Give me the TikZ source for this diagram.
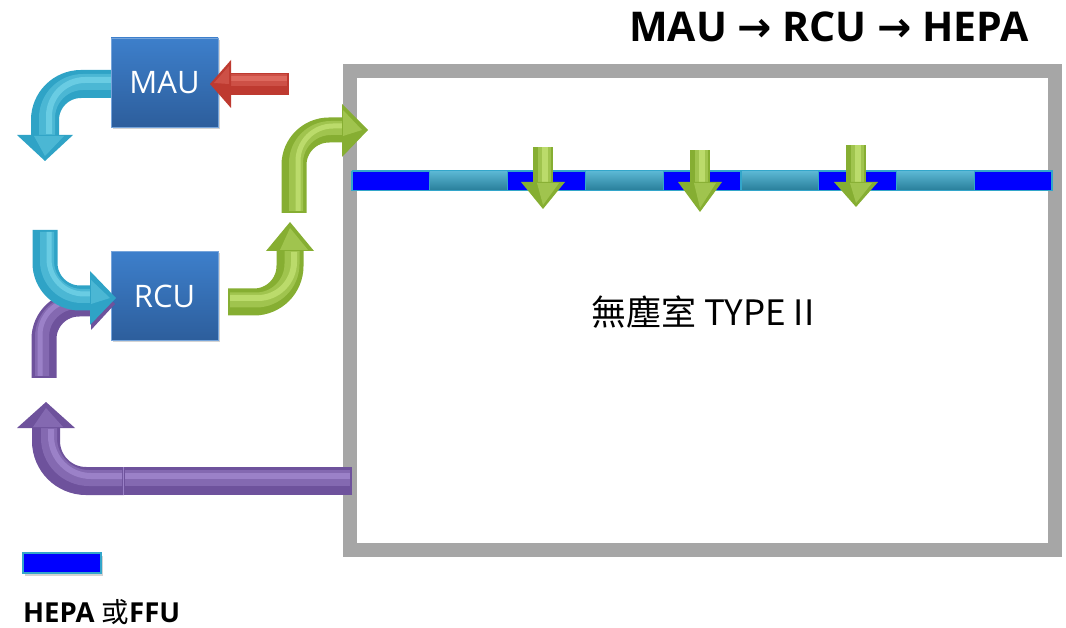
\documentclass[tikz,border=0pt]{standalone}
\usepackage{fontspec}
\setmainfont{Open Sans}
\newfontfamily\cjk{Noto Sans CJK TC}
\newfontfamily\symf{DejaVu Sans}
\usetikzlibrary{shadows}
\definecolor{framegray}{HTML}{A6A6A6}
\definecolor{boxtop}{HTML}{3D7FCB}
\definecolor{boxbot}{HTML}{2D5E9C}
\definecolor{cyanA}{HTML}{2FA3C6}
\definecolor{cyanL}{HTML}{8FE6F7}
\definecolor{greenA}{HTML}{86AE32}
\definecolor{greenL}{HTML}{DDF78F}
\definecolor{purpA}{HTML}{6E529C}
\definecolor{purpL}{HTML}{B8A0E4}
\definecolor{redA}{HTML}{BE3A30}
\definecolor{redL}{HTML}{F2867A}
\definecolor{hepa}{HTML}{0000FF}
\definecolor{hepaC}{HTML}{33A6CA}
\tikzset{
  unitbox/.style={minimum width=107pt, minimum height=89pt, inner sep=0pt,
    top color=boxtop, bottom color=boxbot, draw=boxtop!70!white, line width=0.8pt,
    drop shadow={opacity=.35, shadow xshift=2pt, shadow yshift=-2pt},
    text=white, font=\fontsize{31}{31}\selectfont},
  hepaseg/.style={fill=hepa, draw=hepaC, line width=1.2pt},
  glow/.style={opacity=.3, line cap=butt},
  glowb/.style={opacity=.45, line cap=butt},
}
\begin{document}
\begin{tikzpicture}[x=1pt,y=-1pt]
\useasboundingbox (0,0) rectangle (1066,628);

% clean-room enclosure
\node[draw=framegray, line width=14pt, minimum width=705pt, minimum height=479pt,
      inner sep=0pt] (room) at (702.5,310.5) {};
\node[font=\cjk\fontsize{35}{35}\selectfont] (roomlabel) at (703,312) {無塵室 TYPE II};

% HEPA / FFU ceiling row
\shade[top color=hepaC!80!white, bottom color=hepaC!75!black, draw=hepaC, line width=1pt]
  (352,171) rectangle (1052,191);
\foreach \i in {0,2,4,6,8} {
  \path[hepaseg] ({352+\i*77.78},171.5) rectangle ({352+(\i+1)*77.78},190.5);
}
% supply arrows through the filters
\foreach \c/\t in {543/147, 700/150, 856/145} {
  \fill[greenA] ({\c-10},\t) rectangle ({\c+10},184);
  \fill[greenL, glow] ({\c-5},\t) rectangle ({\c+8},183);
  \fill[greenL, glowb] ({\c-1},\t) rectangle ({\c+5},183);
  \fill[greenA] ({\c-22},182) -- ({\c+22},182) -- (\c,{\t+62}) -- cycle;
  \fill[greenL, glow] ({\c-6},183) -- ({\c+16},183) -- (\c,{\t+58}) -- cycle;
}

% MAU outlet (cyan, behind the box)
\draw[cyanA, line width=28pt, rounded corners=36pt] (115,84) -- (45,84) -- (45,136);
\draw[cyanL, glow, line width=16pt, rounded corners=36pt] (112,82) -- (47,82) -- (47,135);
\draw[cyanL, glowb, line width=6pt, rounded corners=36pt] (112,80) -- (49,80) -- (49,134);
\fill[cyanA] (17,135) -- (73,135) -- (45,161) -- cycle;
\fill[cyanL, glow] (34,136) -- (64,136) -- (45,156) -- cycle;

% units
\node[unitbox] (mau) at (164.5,82.5) {MAU};
\node[unitbox] (rcu) at (164.5,296) {RCU};

% outside air into MAU (red)
\fill[redA] (229,73) rectangle (289,95);
\fill[redL, glow] (231,74) rectangle (287,86);
\fill[redL, glowb] (231,76) rectangle (287,81);
\fill[redA] (231,60) -- (231,108) -- (210,84) -- cycle;
\fill[redL, glow] (229,66) -- (229,84) -- (214,83) -- cycle;

% return air from the room (purple)
\draw[purpA, line width=28pt] (352,481) -- (123,481);
\draw[purpL, glow, line width=16pt] (350,478) -- (125,478);
\draw[purpL, glowb, line width=6pt] (350,476) -- (125,476);
\draw[purpA, line width=28pt, rounded corners=40pt] (124,481) -- (46,481) -- (46,427);
\draw[purpL, glow, line width=16pt, rounded corners=40pt] (122,478) -- (49,478) -- (49,428);
\draw[purpL, glowb, line width=6pt, rounded corners=40pt] (122,476) -- (51,476) -- (51,429);
\draw[purpL!60!purpA, line width=1pt] (123,467) -- (123,495);
\fill[purpA] (17,428) -- (75,428) -- (46,402) -- cycle;
\fill[purpL, glow] (33,427) -- (63,427) -- (46,408) -- cycle;

% return air into RCU (purple, under the cyan one)
\draw[purpA, line width=25pt, rounded corners=35pt] (44,378) -- (44,304) -- (92,304);
\draw[purpL, glow, line width=14pt, rounded corners=35pt] (42,376) -- (42,302) -- (92,302);
\draw[purpL, glowb, line width=5pt, rounded corners=35pt] (40,376) -- (40,300) -- (92,300);
\fill[purpA] (91,279) -- (91,330) -- (115,304) -- cycle;

% MAU air into RCU (cyan)
\draw[cyanA, line width=25pt, rounded corners=35pt] (45,230) -- (45,298) -- (91,298);
\draw[cyanL, glow, line width=14pt, rounded corners=35pt] (47,232) -- (47,296) -- (91,296);
\draw[cyanL, glowb, line width=5pt, rounded corners=35pt] (49,232) -- (49,294) -- (91,294);
\fill[cyanA] (90,271) -- (90,325) -- (116,298) -- cycle;
\fill[cyanL, glow] (91,280) -- (91,304) -- (110,298) -- cycle;

% RCU supply towards the ceiling (green)
\draw[greenA, line width=27pt, rounded corners=36pt] (228,302) -- (290,302) -- (290,250);
\draw[greenL, glow, line width=15pt, rounded corners=36pt] (230,300) -- (292,300) -- (292,251);
\draw[greenL, glowb, line width=6pt, rounded corners=36pt] (230,298) -- (294,298) -- (294,252);
\fill[greenA] (266,251) -- (314,251) -- (290,222) -- cycle;
\fill[greenL, glow] (280,250) -- (308,250) -- (290,228) -- cycle;

\draw[greenA, line width=25pt, rounded corners=35pt] (294,213) -- (294,130) -- (343,130);
\draw[greenL, glow, line width=14pt, rounded corners=35pt] (296,211) -- (296,128) -- (343,128);
\draw[greenL, glowb, line width=5pt, rounded corners=35pt] (298,211) -- (298,126) -- (343,126);
\fill[greenA] (342,104) -- (342,157) -- (368,130) -- cycle;
\fill[greenL, glow] (343,110) -- (343,136) -- (362,130) -- cycle;

% title
\node[anchor=base, font=\bfseries\fontsize{41}{41}\selectfont] (title) at (829,42)
  {MAU {\symf →} RCU {\symf →} HEPA};

% legend
\node[hepaseg, minimum width=78pt, minimum height=20pt, inner sep=0pt,
      drop shadow={opacity=.35, shadow xshift=2pt, shadow yshift=-3pt}] (legendbar) at (62,563) {};
\node[anchor=base west, inner sep=0pt, font=\bfseries\fontsize{27.5}{27.5}\selectfont] (legendtext)
  at (23,622) {HEPA {\cjk\mdseries 或}FFU};
\end{tikzpicture}
\end{document}
